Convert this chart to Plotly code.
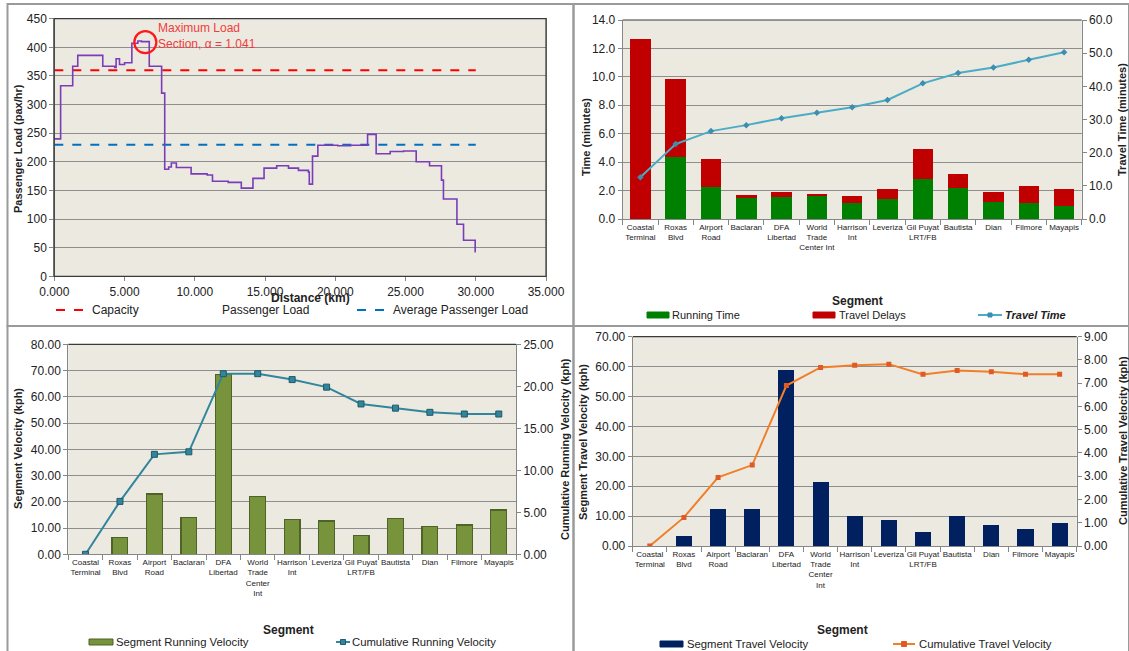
import plotly.graph_objects as go

W, H = 1129, 651
FONT = "Arial, Liberation Sans, sans-serif"

# ---------------- data ----------------
# Passenger load profile along the route (step function)
distance_km = [0.0, 0.45, 1.31, 1.67, 3.45, 4.30, 4.40, 4.64, 5.00, 5.52, 5.95, 6.20,
               6.76, 7.64, 7.86, 8.14, 8.33, 8.69, 9.74, 10.88, 11.26, 12.38, 13.31,
               14.14, 14.93, 15.83, 16.67, 17.38, 18.09, 18.15, 18.38, 18.76, 20.18,
               21.10, 22.30, 22.91, 23.91, 24.86, 25.76, 26.71, 27.56, 27.70, 28.66,
               29.13, 29.96, 30.00]
passenger_load = [240, 333, 367, 386, 367, 365, 380, 370, 373, 407, 411, 410,
                  367, 320, 187, 191, 198, 190, 179, 177, 166, 164, 154,
                  171, 189, 193, 189, 185, 182, 161, 210, 229, 228,
                  229, 248, 214, 218, 219, 200, 193, 168, 135, 91,
                  63, 43, 43]
route_length_km = [0.0, 30.0]
capacity = 360
average_load = 230
max_load_point = (6.48, 409)

segments = ["Coastal Terminal", "Roxas Blvd", "Airport Road", "Baclaran", "DFA Libertad",
            "World Trade Center Int", "Harrison Int", "Leveriza", "Gil Puyat LRT/FB",
            "Bautista", "Dian", "Filmore", "Mayapis"]
labels_time = ["Coastal<br>Terminal", "Roxas<br>Blvd", "Airport<br>Road", "Baclaran",
               "DFA<br>Libertad", "World<br>Trade<br>Center Int", "Harrison<br>Int",
               "Leveriza", "Gil Puyat<br>LRT/FB", "Bautista", "Dian", "Filmore", "Mayapis"]
labels_vel = ["Coastal<br>Terminal", "Roxas<br>Blvd", "Airport<br>Road", "Baclaran",
              "DFA<br>Libertad", "World<br>Trade<br>Center<br>Int", "Harrison<br>Int",
              "Leveriza", "Gil Puyat<br>LRT/FB", "Bautista", "Dian", "Filmore", "Mayapis"]

running_time = [0.0, 4.37, 2.22, 1.47, 1.56, 1.66, 1.16, 1.39, 2.78, 2.18, 1.17, 1.10, 0.93]
travel_delay = [12.64, 5.48, 2.02, 0.22, 0.31, 0.10, 0.48, 0.72, 2.12, 0.96, 0.71, 1.20, 1.18]
travel_time = [12.6, 22.6, 26.5, 28.3, 30.4, 32.0, 33.7, 35.9, 40.9, 44.0, 45.7, 48.0, 50.3]

segment_running_velocity = [0.0, 6.35, 23.0, 14.0, 68.4, 22.0, 13.3, 12.7, 7.2, 13.7, 10.5, 11.2, 16.9]
cumulative_running_velocity = [0.0, 6.3, 11.9, 12.2, 21.5, 21.5, 20.8, 19.9, 17.9, 17.4, 16.9, 16.7, 16.7]

segment_travel_velocity = [0.0, 3.2, 12.5, 12.3, 58.9, 21.5, 9.9, 8.8, 4.6, 9.9, 6.9, 5.7, 7.7]
cumulative_travel_velocity = [0.0, 1.23, 2.95, 3.48, 6.90, 7.68, 7.77, 7.82, 7.38, 7.55, 7.49, 7.39, 7.38]

# ---------------- colours ----------------
C_LOAD = "#7A3DB8"
C_CAP = "#FF0000"
C_AVG = "#0070C0"
C_RUN = "#008000"
C_DELAY = "#C00000"
C_TT = "#4BACC6"
C_TT_MK = "#3C8DB0"
C_OLIVE = "#77933C"
C_OLIVE_EDGE = "#4F6228"
C_TEAL = "#31859C"
C_NAVY = "#002060"
C_ORANGE = "#F07F2A"
C_ORANGE_MK = "#E05A24"
GRID = "#8E8E8E"
AXLINE = "#868686"
BG = "#ECE9E0"


def xd(a, b):
    return [a / W, b / W]


def yd(top, bottom):
    return [1 - bottom / H, 1 - top / H]


def px(x):
    return x / W


def py(y):
    return 1 - y / H


fig = go.Figure()

# ---- top-left: passenger load profile ----
fig.add_trace(go.Scatter(x=route_length_km, y=[capacity, capacity], mode="lines",
                         line=dict(color=C_CAP, width=2, dash="dash"), xaxis="x", yaxis="y"))
fig.add_trace(go.Scatter(x=route_length_km, y=[average_load, average_load], mode="lines",
                         line=dict(color=C_AVG, width=2, dash="dash"), xaxis="x", yaxis="y"))
fig.add_trace(go.Scatter(x=distance_km, y=passenger_load, mode="lines",
                         line=dict(color=C_LOAD, width=1.6, shape="hv"), xaxis="x", yaxis="y"))

# ---- top-right: segment times ----
fig.add_trace(go.Bar(x=segments, y=running_time, marker=dict(color=C_RUN, line=dict(width=0)),
                     width=0.58, xaxis="x2", yaxis="y2"))
fig.add_trace(go.Bar(x=segments, y=travel_delay, marker=dict(color=C_DELAY, line=dict(width=0)),
                     width=0.58, xaxis="x2", yaxis="y2"))
fig.add_trace(go.Scatter(x=segments, y=travel_time, mode="lines+markers",
                         line=dict(color=C_TT, width=2),
                         marker=dict(symbol="diamond", size=5, color=C_TT_MK),
                         xaxis="x2", yaxis="y3"))

# ---- bottom-left: running velocity ----
fig.add_trace(go.Bar(x=segments, y=segment_running_velocity,
                     marker=dict(color=C_OLIVE, line=dict(color=C_OLIVE_EDGE, width=1.2)),
                     width=0.46, xaxis="x3", yaxis="y4"))
fig.add_trace(go.Scatter(x=segments, y=cumulative_running_velocity, mode="lines+markers",
                         line=dict(color=C_TEAL, width=2),
                         marker=dict(symbol="square", size=6, color=C_TEAL,
                                     line=dict(color="#215968", width=1)),
                         xaxis="x3", yaxis="y5"))

# ---- bottom-right: travel velocity ----
fig.add_trace(go.Bar(x=segments, y=segment_travel_velocity,
                     marker=dict(color=C_NAVY, line=dict(width=0)),
                     width=0.47, xaxis="x4", yaxis="y6"))
fig.add_trace(go.Scatter(x=segments, y=cumulative_travel_velocity, mode="lines+markers",
                         line=dict(color=C_ORANGE, width=2),
                         marker=dict(symbol="square", size=5, color=C_ORANGE_MK),
                         xaxis="x4", yaxis="y7"))

tick_font = dict(family=FONT, size=12, color="#222222")
cat_font = dict(family=FONT, size=8, color="#222222")


def num_axis(**kw):
    base = dict(showline=True, linecolor=AXLINE, linewidth=1, ticks="outside", ticklen=4,
                tickcolor=AXLINE, tickfont=tick_font, zeroline=False, fixedrange=True,
                automargin=False)
    base.update(kw)
    return base


def cat_axis(domain, anchor, ticktext):
    return dict(domain=domain, anchor=anchor, type="category", categoryarray=segments,
                categoryorder="array", range=[-0.5, 12.5], tickmode="array",
                tickvals=segments, ticktext=ticktext, tickson="boundaries",
                ticks="outside", ticklen=5, tickcolor=AXLINE, showline=True,
                linecolor=AXLINE, showgrid=False, tickfont=cat_font, tickangle=0,
                zeroline=False, fixedrange=True, automargin=False)


fig.update_layout(
    width=W, height=H, margin=dict(l=0, r=0, t=0, b=0, pad=0, autoexpand=False),
    paper_bgcolor="white", plot_bgcolor=BG, showlegend=False,
    barmode="stack", bargap=0.4,
    font=dict(family=FONT, color="#222222"),
    # top-left
    xaxis=num_axis(domain=xd(54.3, 546), anchor="y", range=[0, 35], dtick=5,
                   tickformat=".3f", showgrid=False, mirror=True),
    yaxis=num_axis(domain=yd(18.7, 276.3), anchor="x", range=[0, 450], dtick=50,
                   showgrid=True, gridcolor=GRID, gridwidth=1, mirror=True),
    # top-right
    xaxis2=cat_axis(xd(622.7, 1081.7), "y2", labels_time),
    yaxis2=num_axis(domain=yd(20, 219), anchor="x2", range=[0, 14], dtick=2,
                    tickformat=".1f", showgrid=True, gridcolor=GRID),
    yaxis3=num_axis(domain=yd(20, 219), anchor="x2", overlaying="y2", side="right",
                    range=[0, 60], dtick=10, tickformat=".1f", showgrid=False),
    # bottom-left
    xaxis3=cat_axis(xd(68.3, 516), "y4", labels_vel),
    yaxis4=num_axis(domain=yd(344.3, 554.3), anchor="x3", range=[0, 80], dtick=10,
                    tickformat=".2f", showgrid=True, gridcolor=GRID),
    yaxis5=num_axis(domain=yd(344.3, 554.3), anchor="x3", overlaying="y4", side="right",
                    range=[0, 25], dtick=5, tickformat=".2f", showgrid=False),
    # bottom-right
    xaxis4=cat_axis(xd(632.7, 1076.7), "y6", labels_vel),
    yaxis6=num_axis(domain=yd(336.7, 546), anchor="x4", range=[0, 70], dtick=10,
                    tickformat=".2f", showgrid=True, gridcolor=GRID),
    yaxis7=num_axis(domain=yd(336.7, 546), anchor="x4", overlaying="y6", side="right",
                    range=[0, 9], dtick=1, tickformat=".2f", showgrid=False),
)

shapes = []
annotations = []

# panel borders
for (x0, y0, x1, y1) in [(7.5, 4, 573.5, 326), (573.5, 4, 1129, 326),
                         (7.5, 326, 573.5, 660), (573.5, 326, 1129, 660)]:
    shapes.append(dict(type="rect", xref="paper", yref="paper", x0=px(x0), x1=px(x1),
                       y0=py(y1), y1=py(y0), line=dict(color="#9A9A9A", width=2),
                       fillcolor="rgba(0,0,0,0)", layer="below"))

# plot-area frame tops
for xr, yr in [("x2", "y2"), ("x3", "y4"), ("x4", "y6")]:
    shapes.append(dict(type="line", xref=f"{xr} domain", yref=f"{yr} domain",
                       x0=0, x1=1, y0=1, y1=1, line=dict(color="#3A3A3A", width=1.2)))
shapes.append(dict(type="rect", xref="x domain", yref="y domain", x0=0, x1=1, y0=0, y1=1,
                   line=dict(color="#3A3A3A", width=1.2)))

# maximum load marker circle
shapes.append(dict(type="circle", xref="x", yref="y", xsizemode="pixel", ysizemode="pixel",
                   xanchor=max_load_point[0], yanchor=max_load_point[1],
                   x0=-11, x1=11, y0=-11, y1=11, line=dict(color="#FF1A1A", width=2.2)))
annotations.append(dict(xref="paper", yref="paper", x=px(156), y=py(36), xanchor="left",
                        yanchor="middle", showarrow=False, align="left",
                        text="Maximum Load<br>Section, α = 1.041",
                        font=dict(family=FONT, size=12, color="#F03C3C")))


def text(x, y, s, size=12, bold=False, anchor="left", color="#222222", angle=0):
    annotations.append(dict(xref="paper", yref="paper", x=px(x), y=py(y), xanchor=anchor,
                            yanchor="middle", showarrow=False, textangle=angle,
                            text=f"<b>{s}</b>" if bold else s,
                            font=dict(family=FONT, size=size, color=color)))


def swatch(x0, x1, yc, h, fill, edge=None):
    shapes.append(dict(type="rect", xref="paper", yref="paper", x0=px(x0), x1=px(x1),
                       y0=py(yc + h / 2), y1=py(yc - h / 2), fillcolor=fill,
                       line=dict(color=edge or fill, width=1)))


def line_sample(x0, x1, yc, color, dash="solid", width=2):
    shapes.append(dict(type="line", xref="paper", yref="paper", x0=px(x0), x1=px(x1),
                       y0=py(yc), y1=py(yc), line=dict(color=color, width=width, dash=dash)))


def marker_sample(xc, yc, color, half=2.5, edge=None):
    shapes.append(dict(type="rect", xref="paper", yref="paper", x0=px(xc - half),
                       x1=px(xc + half), y0=py(yc + half), y1=py(yc - half),
                       fillcolor=color, line=dict(color=edge or color, width=1)))


# axis titles
text(18, 149, "Passenger Load (pax/hr)", size=11, bold=True, anchor="center", angle=-90)
text(310, 298, "Distance (km)", size=12, bold=True, anchor="center")
text(586, 137, "Time (minutes)", size=11, bold=True, anchor="center", angle=-90)
text(1122, 120, "Travel Time (minutes)", size=11, bold=True, anchor="center", angle=-90)
text(857, 301, "Segment", size=12, bold=True, anchor="center")
text(18, 449, "Segment Velocity (kph)", size=11, bold=True, anchor="center", angle=-90)
text(565, 449, "Cumulative Running Velocity (kph)", size=11, bold=True, anchor="center", angle=-90)
text(288, 630, "Segment", size=12, bold=True, anchor="center")
text(583, 442, "Segment Travel Velocity (kph)", size=11, bold=True, anchor="center", angle=-90)
text(1123, 441, "Cumulative Travel Velocity (kph)", size=11, bold=True, anchor="center", angle=-90)
text(842, 630, "Segment", size=12, bold=True, anchor="center")

# legends
line_sample(56, 88, 310, C_CAP, dash="dash")
text(90, 310, "Capacity")
text(220, 310, "Passenger Load")
line_sample(357, 390, 310, C_AVG, dash="dash")
text(391, 310, "Average Passenger Load")

swatch(647, 669, 315, 6, C_RUN)
text(670, 315, "Running Time", size=11)
swatch(813, 835, 315, 6, C_DELAY)
text(837, 315, "Travel Delays", size=11)
line_sample(978, 1002, 315, C_TT)
marker_sample(990, 315, C_TT_MK, half=2)
text(1003, 315, "<i>Travel Time</i>", size=11, bold=True)

swatch(89, 113, 642, 6, C_OLIVE, C_OLIVE_EDGE)
text(114, 642, "Segment Running Velocity", size=11.3)
line_sample(336, 350, 642, C_TEAL)
marker_sample(343, 642, C_TEAL, edge="#215968")
text(350, 642, "Cumulative Running Velocity", size=11.3)

swatch(660, 683, 644, 6, C_NAVY)
text(685, 644, "Segment Travel Velocity", size=11.3)
line_sample(893, 915, 644, C_ORANGE)
marker_sample(904, 644, C_ORANGE_MK)
text(917, 644, "Cumulative Travel Velocity", size=11.3)

fig.update_layout(shapes=shapes, annotations=annotations)
fig.write_html("out.html")
